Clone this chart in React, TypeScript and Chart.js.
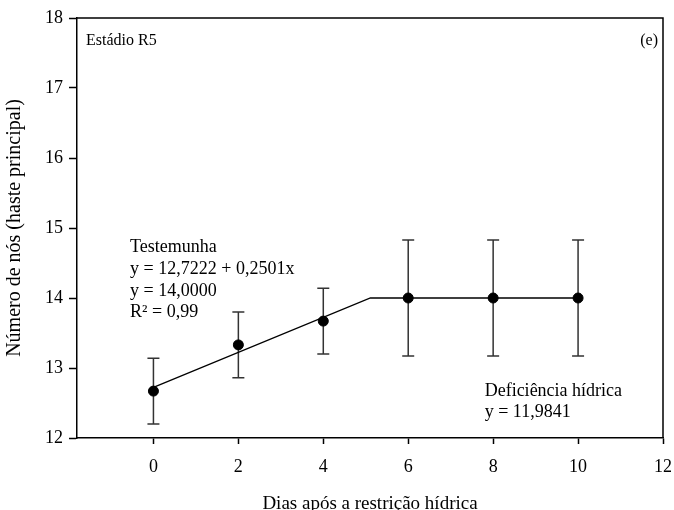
import React, { useEffect, useRef } from 'react';
import { Chart, registerables } from 'chart.js';

Chart.register(...registerables);

// ---- data ----
const days = [0, 2, 4, 6, 8, 10];
const nodes = [12.67, 13.33, 13.67, 14.0, 14.0, 14.0];
const errors = [0.47, 0.47, 0.47, 0.83, 0.83, 0.83];
const xTicks = [0, 2, 4, 6, 8, 10, 12];
const yTicks = [12, 13, 14, 15, 16, 17, 18];
const intercept = 12.7222;
const slope = 0.2501;
const plateau = 14.0;
const fitStart = 0;
const fitEnd = 10;

const panelLabel = 'Estádio R5';
const panelLetter = '(e)';
const controlLines = ['Testemunha', 'y = 12,7222 + 0,2501x', 'y = 14,0000', 'R² = 0,99'];
const deficitLines = ['Deficiência hídrica', 'y = 11,9841'];
const xTitle = 'Dias após a restrição hídrica';
const yTitle = 'Número de nós (haste principal)';

const FONT = '"Liberation Serif", "Times New Roman", serif';

export default function App() {
  const ref = useRef<HTMLCanvasElement | null>(null);

  useEffect(() => {
    if (!ref.current) return;
    const breakX = (plateau - intercept) / slope;
    const fit = [
      { x: fitStart, y: intercept + slope * fitStart },
      { x: breakX, y: plateau },
      { x: fitEnd, y: plateau },
    ];
    const pts = days.map((d, i) => ({ x: d, y: nodes[i] }));

    const errorBars = {
      id: 'errorBars',
      beforeDatasetsDraw(chart: any) {
        const { ctx, scales } = chart;
        const xs = scales.x, ys = scales.y;
        ctx.save();
        ctx.strokeStyle = '#333';
        ctx.lineWidth = 1.5;
        days.forEach((d, i) => {
          const px = xs.getPixelForValue(d);
          const top = ys.getPixelForValue(nodes[i] + errors[i]);
          const bot = ys.getPixelForValue(nodes[i] - errors[i]);
          ctx.beginPath();
          ctx.moveTo(px, top); ctx.lineTo(px, bot);
          ctx.moveTo(px - 6, top); ctx.lineTo(px + 6, top);
          ctx.moveTo(px - 6, bot); ctx.lineTo(px + 6, bot);
          ctx.stroke();
        });
        ctx.restore();
      },
    };

    const frameAndText = {
      id: 'frameAndText',
      afterDraw(chart: any) {
        const { ctx, chartArea: a, scales } = chart;
        const xs = scales.x, ys = scales.y;
        ctx.save();
        ctx.strokeStyle = '#000';
        ctx.lineWidth = 1.5;
        ctx.beginPath();
        ctx.moveTo(a.left, a.top); ctx.lineTo(a.right, a.top); ctx.lineTo(a.right, a.bottom);
        ctx.stroke();

        ctx.fillStyle = '#000';
        ctx.textBaseline = 'middle';
        ctx.font = `16px ${FONT}`;
        ctx.textAlign = 'left';
        ctx.fillText(panelLabel, a.left + 9, a.top + 23);
        ctx.textAlign = 'right';
        ctx.fillText(panelLetter, a.right - 5, a.top + 23);

        ctx.font = `18px ${FONT}`;
        ctx.textAlign = 'left';
        const cx = xs.getPixelForValue(-0.55);
        const cy = ys.getPixelForValue(14.72);
        controlLines.forEach((t, i) => ctx.fillText(t, cx, cy + i * 21.6));
        const dx = xs.getPixelForValue(7.8);
        const dy = ys.getPixelForValue(12.67);
        deficitLines.forEach((t, i) => ctx.fillText(t, dx, dy + i * 21.6));
        ctx.restore();
      },
    };

    const chart = new Chart(ref.current, {
      type: 'scatter',
      data: {
        datasets: [
          {
            label: 'fit',
            data: fit,
            showLine: true,
            borderColor: '#000',
            borderWidth: 1.3,
            pointRadius: 0,
            fill: false,
          } as any,
          {
            label: 'Testemunha',
            data: pts,
            pointRadius: 5,
            pointBackgroundColor: '#000',
            pointBorderColor: '#000',
            showLine: false,
          },
        ],
      },
      options: {
        responsive: false,
        animation: false,
        layout: { padding: { left: 0, top: 18, right: 11, bottom: 0 } },
        plugins: { legend: { display: false }, tooltip: { enabled: false } },
        scales: {
          x: {
            type: 'linear',
            min: -1.8,
            max: 12,
            afterBuildTicks: (s: any) => { s.ticks = xTicks.map((v) => ({ value: v })); },
            afterFit: (s: any) => { s.height = 72; s.paddingLeft = 0; s.paddingRight = 0; },
            ticks: { color: '#000', font: { family: FONT, size: 18 }, padding: 12, maxRotation: 0 },
            grid: { drawOnChartArea: false, color: '#000', tickLength: 6, tickWidth: 1.5 },
            border: { color: '#000', width: 1.5 },
            title: {
              display: true, text: xTitle, color: '#000',
              font: { family: FONT, size: 19, lineHeight: 0.65 }, padding: { top: 0, bottom: 0 },
            },
          },
          y: {
            type: 'linear',
            min: 12,
            max: 18,
            afterBuildTicks: (s: any) => { s.ticks = yTicks.map((v) => ({ value: v })); },
            afterFit: (s: any) => { s.width = 77; s.paddingTop = 0; s.paddingBottom = 0; },
            ticks: { color: '#000', font: { family: FONT, size: 18 }, padding: 6 },
            grid: { drawOnChartArea: false, color: '#000', tickLength: 8, tickWidth: 1.5 },
            border: { color: '#000', width: 1.5 },
            title: {
              display: true, text: yTitle, color: '#000',
              font: { family: FONT, size: 20, lineHeight: 1.2 }, padding: { top: 3, bottom: 0 },
            },
          },
        },
      },
      plugins: [errorBars, frameAndText],
    });
    return () => chart.destroy();
  }, []);

  return (
    <div style={{ position: 'absolute', left: 0, top: 0, width: 674, height: 510, background: '#fff' }}>
      <canvas ref={ref} width={674} height={510} style={{ display: 'block' }} />
    </div>
  );
}
